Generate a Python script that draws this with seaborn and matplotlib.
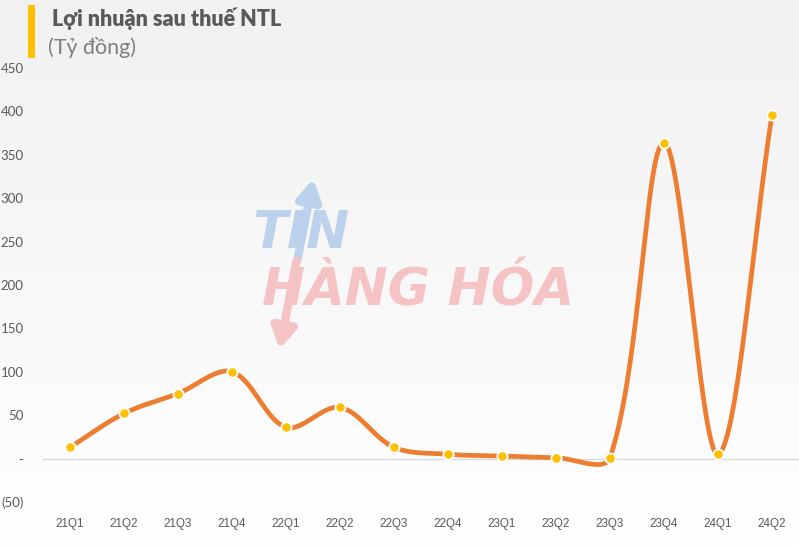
import numpy as np
import pandas as pd
import matplotlib
matplotlib.use("Agg")
import matplotlib.pyplot as plt
import seaborn as sns
from matplotlib.ticker import FixedLocator, FuncFormatter
from matplotlib.patches import Rectangle, FancyArrowPatch

quarters = ["21Q1", "21Q2", "21Q3", "21Q4", "22Q1", "22Q2", "22Q3", "22Q4",
            "23Q1", "23Q2", "23Q3", "23Q4", "24Q1", "24Q2"]
profit = [13, 52, 75, 100, 36, 59, 13, 5, 3, 1, 1, 364, 5, 396]
y_ticks = [-50, 0, 50, 100, 150, 200, 250, 300, 350, 400, 450]

title = "Lợi nhuận sau thuế NTL"
unit = "(Tỷ đồng)"

LINE = "#ED7D31"
MARK = "#FFC000"
GREY = "#595959"

sns.set_theme(style="white")
plt.rcParams["font.family"] = ["Lato", "DejaVu Sans"]

W, H = 799, 547
fig = plt.figure(figsize=(W / 100, H / 100), dpi=100)

# gradient background
bg = fig.add_axes([0, 0, 1, 1], zorder=-10)
grad = np.linspace(1.0, 0.0, 256).reshape(-1, 1)
bg.imshow(grad, aspect="auto", cmap=matplotlib.colors.LinearSegmentedColormap.from_list(
    "g", ["#f1f1f1", "#ffffff"]), extent=[0, 1, 0, 1], origin="lower")
bg.axis("off")

# watermark logo (drawn under the chart)
def fp(x, y):
    return (x / W, 1 - y / H)

fig.add_artist(FancyArrowPatch(fp(297, 262), fp(314, 176), transform=fig.transFigure,
                               arrowstyle="-|>,head_length=12,head_width=7", mutation_scale=1,
                               color="#bcd2ec", linewidth=6, zorder=0))
fig.add_artist(FancyArrowPatch(fp(297, 258), fp(279, 352), transform=fig.transFigure,
                               arrowstyle="-|>,head_length=12,head_width=7", mutation_scale=1,
                               color="#f5c3c3", linewidth=6, zorder=0))
fig.text(*fp(253, 234), "TIN", fontsize=37, fontweight="bold", style="italic",
         family="DejaVu Sans", color="#bcd2ec", va="center", ha="left", zorder=0)
fig.text(*fp(262, 292), "HÀNG HÓA", fontsize=37, fontweight="bold", style="italic",
         family="DejaVu Sans", color="#f5c3c3", va="center", ha="left", zorder=0)

left, right, top, bottom = 43, 799, 68, 502
ax = fig.add_axes([left / W, (H - bottom) / H, (right - left) / W, (bottom - top) / H])
ax.patch.set_alpha(0)

df = pd.DataFrame({"q": quarters, "v": profit})
df["i"] = np.arange(len(df))

ax.set_xlim(-0.5, len(quarters) - 0.5)
ax.set_ylim(-50, 450)

# Excel-like smoothed curve computed in display space
fig.canvas.draw()
pts = ax.transData.transform(np.column_stack([df["i"], df["v"]]))
n = len(pts)
curve = []
for k in range(n - 1):
    p0 = pts[k - 1] if k > 0 else pts[k]
    p1 = pts[k]
    p2 = pts[k + 1]
    p3 = pts[k + 2] if k + 2 < n else pts[k + 1]
    d01 = np.linalg.norm(p1 - p0)
    d12 = np.linalg.norm(p2 - p1)
    d23 = np.linalg.norm(p3 - p2)
    f1 = (1 / 3) * d12 / (d01 + d12) if d01 + d12 > 0 else 0
    f2 = (1 / 3) * d12 / (d12 + d23) if d12 + d23 > 0 else 0
    b1 = p1 + (p2 - p0) * f1
    b2 = p2 - (p3 - p1) * f2
    t = np.linspace(0, 1, 60)[:, None]
    seg = (1 - t) ** 3 * p1 + 3 * (1 - t) ** 2 * t * b1 + 3 * (1 - t) * t ** 2 * b2 + t ** 3 * p2
    curve.append(seg if k == 0 else seg[1:])
curve = ax.transData.inverted().transform(np.vstack(curve))
smooth = pd.DataFrame({"x": curve[:, 0], "y": curve[:, 1]})

sns.lineplot(data=smooth, x="x", y="y", ax=ax, color=LINE, linewidth=3.4,
             sort=False, estimator=None, solid_capstyle="round", zorder=3)
sns.scatterplot(data=df, x="i", y="v", ax=ax, color=MARK, s=55,
                edgecolor="white", linewidth=1.3, zorder=4)

# axes styling
for s in ["top", "right", "left"]:
    ax.spines[s].set_visible(False)
ax.spines["bottom"].set_position(("data", 0))
ax.spines["bottom"].set_color("#d9d9d9")
ax.spines["bottom"].set_linewidth(1.0)

ax.set_xticks(df["i"])
ax.set_xticklabels(quarters)
ax.xaxis.set_minor_locator(FixedLocator(np.arange(-0.5, len(quarters), 1)))
ax.tick_params(axis="x", which="major", length=0, pad=43, labelsize=8.4, labelcolor=GREY)
ax.tick_params(axis="x", which="minor", length=4.5, width=1, color="#d9d9d9", direction="out")
for lab in ax.get_xticklabels():
    lab.set_family(["Liberation Sans Narrow", "Liberation Sans"])

ax.set_yticks(y_ticks)
ax.yaxis.set_major_formatter(FuncFormatter(
    lambda v, p: "-" if v == 0 else (f"({abs(int(v))})" if v < 0 else f"{int(v)}")))
ax.tick_params(axis="y", length=0, pad=14, labelsize=9.5, labelcolor=GREY)
ax.grid(False)
ax.set_xlabel("")
ax.set_ylabel("")

# title block
fig.patches.append(Rectangle((28 / W, 1 - 58 / H), 7 / W, 53 / H, transform=fig.transFigure,
                             facecolor=MARK, edgecolor="none"))
fig.text(52 / W, 1 - 19 / H, title, fontsize=15.5, fontweight="heavy", color=GREY,
         va="center", ha="left")
fig.text(48 / W, 1 - 47 / H, unit, fontsize=15.5, color="#7f7f7f", va="center", ha="left")

fig.savefig("out.png", dpi=100)
